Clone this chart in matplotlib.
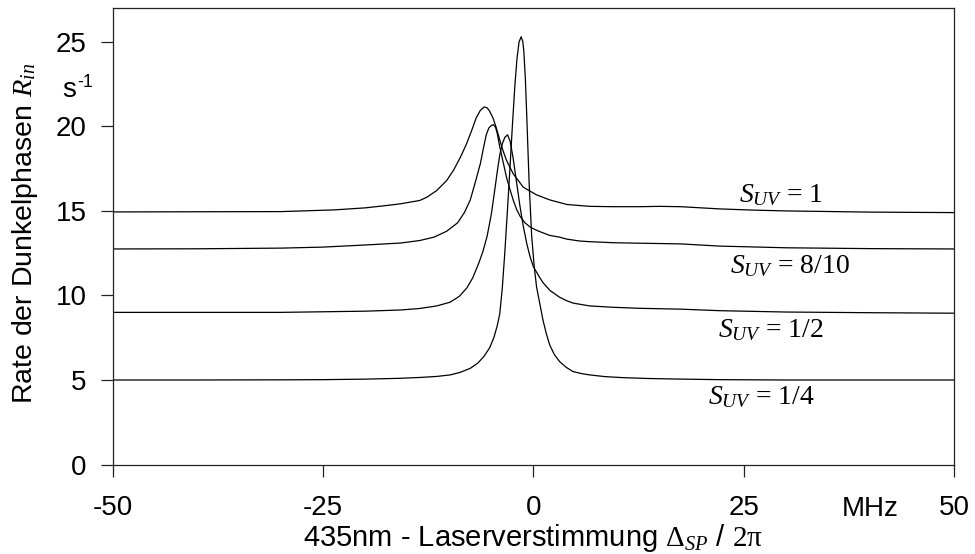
import matplotlib
matplotlib.use("Agg")
import matplotlib.pyplot as plt
import matplotlib.transforms as mtransforms

plt.rcParams.update(
    {
        "font.family": "Liberation Sans",
        "font.size": 20,
        "axes.unicode_minus": False,
        "mathtext.fontset": "custom",
        "mathtext.rm": "Liberation Serif",
        "mathtext.it": "Liberation Serif:italic",
        "mathtext.sf": "Liberation Sans",
    }
)

# curves, detuning in MHz, rate in 1/s
X_QUARTER = [-50, -40, -30, -25, -20, -15.8, -13.5, -11.5, -9.9, -8.7, -7.5, -6.6, -5.9, -5.2, -4.7,
             -4.3, -4.0, -3.7, -3.4, -3.1, -2.8, -2.5, -2.2, -1.95, -1.7, -1.45, -1.25, -1.13, -0.95,
             -0.8, -0.5, -0.2, 0.1, 0.38, 0.77, 1.16, 1.56, 1.96, 2.5, 3.1, 3.9, 4.7, 5.7, 6.7, 8.5,
             10.6, 13.5, 16.6, 22.1, 30, 40, 50]
Y_QUARTER = [5.0, 5.0, 5.01, 5.02, 5.05, 5.1, 5.15, 5.21, 5.3, 5.45, 5.69, 6.0, 6.38, 6.9, 7.5,
             8.2, 8.9, 10.4, 12.5, 14.9, 17.4, 20.0, 22.4, 24.0, 25.0, 25.3, 25.0, 24.4, 22.8,
             20.8, 16.6, 13.5, 11.7, 10.5, 9.5, 8.5, 7.7, 7.05, 6.5, 6.1, 5.75, 5.5, 5.38, 5.3, 5.2,
             5.14, 5.09, 5.06, 5.02, 5.0, 5.0, 5.0]

X_HALF = [-50, -40, -30, -20, -15.8, -13.5, -11.5, -9.9, -8.8, -7.9, -7.2, -6.5, -6.0, -5.5, -5.0,
          -4.6, -4.3, -4.0, -3.7, -3.4, -3.06, -2.75, -2.4, -2.0, -1.6, -1.2, -0.8, -0.4, 0, 0.77,
          1.16, 1.96, 3.1, 3.9, 4.7, 6.7, 9.5, 12.6, 17.5, 22.1, 30, 40, 50]
Y_HALF = [9.0, 9.0, 9.0, 9.07, 9.14, 9.23, 9.38, 9.6, 9.95, 10.45, 11.05, 11.9, 12.6, 13.5, 14.8,
          16.2, 17.3, 18.3, 18.95, 19.35, 19.5, 19.1, 18.1, 16.7, 15.3, 14.1, 13.1, 12.3, 11.7, 11.05,
          10.75, 10.3, 9.9, 9.7, 9.55, 9.38, 9.3, 9.24, 9.19, 9.1, 9.02, 8.98, 8.95]

X_EIGHT = [-50, -40, -30, -25, -19.8, -15.8, -13.5, -11.8, -10.3, -9.0, -8.2, -7.5, -6.9, -6.3, -5.9,
           -5.6, -5.3, -5.0, -4.75, -4.5, -4.3, -4.0, -3.6, -3.2, -2.8, -2.4, -2.0, -1.6, -1.0, -0.4,
           0.4, 1.16, 1.96, 3.1, 4.0, 5.5, 6.7, 9.5, 12.6, 17.5, 22.1, 30, 40, 50]
Y_EIGHT = [12.75, 12.76, 12.8, 12.86, 12.99, 13.1, 13.25, 13.45, 13.8, 14.3, 14.9, 15.65, 16.7, 17.8, 18.8,
           19.5, 19.9, 20.05, 20.1, 19.95, 19.6, 18.8, 17.9, 17.0, 16.3, 15.65, 15.1, 14.7, 14.3, 14.05,
           13.85, 13.7, 13.55, 13.45, 13.33, 13.22, 13.18, 13.12, 13.09, 13.05, 12.92, 12.82, 12.77, 12.75]

X_ONE = [-50, -40, -30, -23.7, -20, -17.8, -15.8, -13.5, -12.7, -11.5, -10.3, -9.5, -8.7, -8.0, -7.3,
         -6.8, -6.3, -5.85, -5.5, -5.2, -4.8, -4.4, -4.0, -3.6, -3.2, -2.4, -1.2, 0.38, 1.96, 4.0,
         6.7, 9.5, 12.6, 15, 17.5, 22.1, 26, 30, 40, 50]
Y_ONE = [14.94, 14.95, 14.96, 15.06, 15.18, 15.3, 15.42, 15.62, 15.8, 16.2, 16.8, 17.4, 18.15, 18.9, 19.8,
         20.5, 20.95, 21.15, 21.1, 20.9, 20.5, 19.9, 19.2, 18.55, 18.0, 17.2, 16.4, 15.95, 15.65, 15.38,
         15.27, 15.25, 15.25, 15.27, 15.25, 15.12, 15.05, 15.0, 14.93, 14.9]

LABELS = [r"$S_{UV}$ = 1", r"$S_{UV}$ = 8/10", r"$S_{UV}$ = 1/2", r"$S_{UV}$ = 1/4"]
LABEL_X = [24.5, 23.4, 22.0, 20.7]
LABEL_Y = [15.55, 11.3, 7.55, 3.6]

X_TICKS = [-50, -25, 0, 25, 50]
Y_TICKS = [0, 5, 10, 15, 20, 25]

fig = plt.figure(figsize=(9.75, 5.54), dpi=100)
ax = fig.add_axes([0.1156, 0.1615, 0.8629, 0.824])

for xs, ys in [(X_ONE, Y_ONE), (X_EIGHT, Y_EIGHT), (X_HALF, Y_HALF), (X_QUARTER, Y_QUARTER)]:
    ax.plot(xs, ys, color="black", lw=0.9)

for text, lx, ly in zip(LABELS, LABEL_X, LABEL_Y):
    ax.text(lx, ly, text, fontfamily="Liberation Serif", fontsize=20, ha="left", va="baseline")

ax.set_xlim(-50, 50)
ax.set_ylim(0, 27)
ax.set_xticks(X_TICKS)
ax.set_yticks(Y_TICKS)
ax.tick_params(axis="both", direction="out", length=8.7, width=0.9, color="#222222", labelsize=20)
ax.tick_params(axis="x", pad=13)
ax.tick_params(axis="y", pad=10)
for spine in ax.spines.values():
    spine.set_color("#222222")
    spine.set_linewidth(0.9)

ax.set_xlabel(r"435nm - Laserverstimmung $\Delta_{SP}$ / $\mathrm{2\pi}$", fontsize=21)
ax.set_ylabel(r"Rate der Dunkelphasen $R_{in}$", fontsize=20.5)
ax.xaxis.set_label_coords(0.5, -0.125)
ax.yaxis.set_label_coords(-0.087, 0.507)

blend = mtransforms.blended_transform_factory(ax.transData, ax.transAxes)
ax.text(40, -0.098, "MHz", transform=blend, ha="center", va="center", fontsize=20)
blend_y = mtransforms.blended_transform_factory(ax.transAxes, ax.transData)
ax.text(-0.0436, 21.75, "s", transform=blend_y, ha="right", va="baseline", fontsize=20)
ax.text(-0.0424, 22.35, "-1", transform=blend_y, ha="left", va="baseline", fontsize=13)

fig.savefig("out.png", dpi=100)
